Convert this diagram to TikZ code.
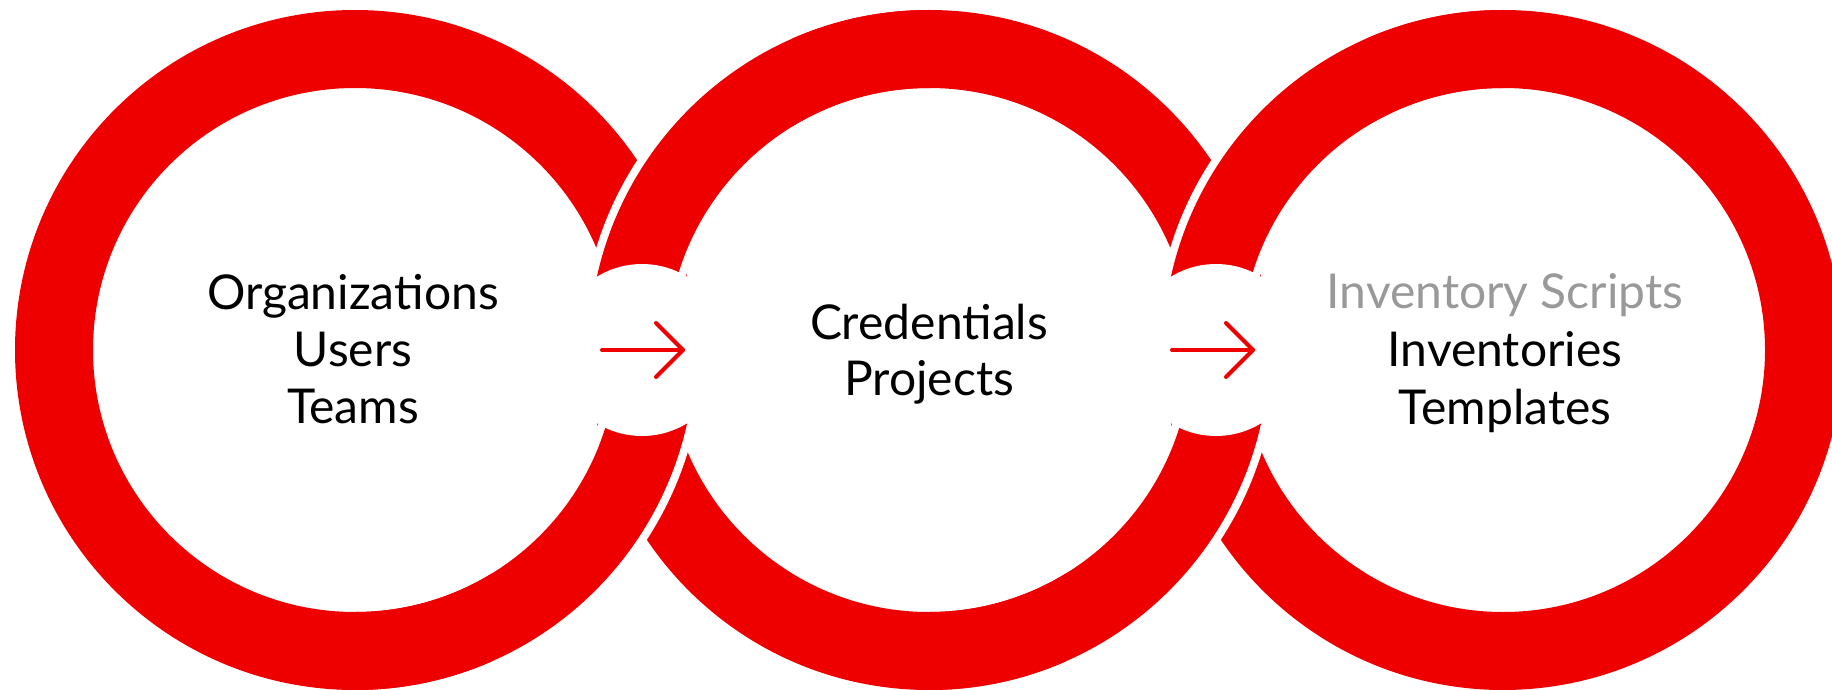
\documentclass[tikz,border=0pt]{standalone}
\usepackage{fontspec}
\setmainfont{Lato}
\definecolor{rhred}{RGB}{238,0,0}
\definecolor{ltgray}{RGB}{153,153,153}
\begin{document}
\begin{tikzpicture}[x=1pt,y=-1pt,
  lbl/.style={font=\fontsize{48}{57}\selectfont, anchor=base, inner sep=0pt, text=black},
  arr/.style={draw=rhred, line width=4pt, line cap=round, line join=round}]
\useasboundingbox (0,0) rectangle (1832,690);
\clip (0,0) rectangle (1832,690);
\def\Ro{340}\def\Ri{262}\def\g{8}\def\cy{350}
% rings
\foreach \c in {355,929,1503} {
  \fill[rhred,even odd rule] (\c,\cy) circle[radius=\Ro] (\c,\cy) circle[radius=\Ri];
}
% interlocking crossings and central gaps
\foreach \l/\r in {355/929, 929/1503} {
  \pgfmathsetmacro\m{(\l+\r)/2}
  % upper crossing: right ring passes over left ring
  \begin{scope}
    \clip (\m-150,0) rectangle (\m+150,\cy);
    \fill[white,even odd rule] (\r,\cy) circle[radius=\Ro+\g] (\r,\cy) circle[radius=\Ri-\g];
  \end{scope}
  \begin{scope}
    \clip (\r-400,0) rectangle (\r,\cy);
    \fill[rhred,even odd rule] (\r,\cy) circle[radius=\Ro] (\r,\cy) circle[radius=\Ri];
  \end{scope}
  % lower crossing: left ring passes over right ring
  \begin{scope}
    \clip (\m-150,\cy) rectangle (\m+150,690);
    \fill[white,even odd rule] (\l,\cy) circle[radius=\Ro+\g] (\l,\cy) circle[radius=\Ri-\g];
  \end{scope}
  \begin{scope}
    \clip (\l,\cy) rectangle (\l+400,690);
    \fill[rhred,even odd rule] (\l,\cy) circle[radius=\Ro] (\l,\cy) circle[radius=\Ri];
  \end{scope}
  \fill[white] (\m,\cy) circle[radius=86];
}
% arrows
\coordinate (a1s) at (602,350);
\coordinate (a1e) at (683,350);
\coordinate (a2s) at (1172,350);
\coordinate (a2e) at (1253,350);
\draw[arr] (a1s) -- (a1e);
\draw[arr] (a1e) ++(-27,-27) -- (a1e) -- ++(-27,27);
\draw[arr] (a2s) -- (a2e);
\draw[arr] (a2e) ++(-27,-27) -- (a2e) -- ++(-27,27);
% texts
\node[lbl] (org) at (353,309) {Organizations};
\node[lbl] (usr) at (353,366) {Users};
\node[lbl] (tms) at (353,423) {Teams};
\node[lbl] (cred) at (929,339) {Credentials};
\node[lbl] (proj) at (929,395) {Projects};
\node[lbl,text=ltgray] (invs) at (1505,308) {Inventory Scripts};
\node[lbl] (inv) at (1505,366) {Inventories};
\node[lbl] (tpl) at (1505,424) {Templates};
\end{tikzpicture}
\end{document}
